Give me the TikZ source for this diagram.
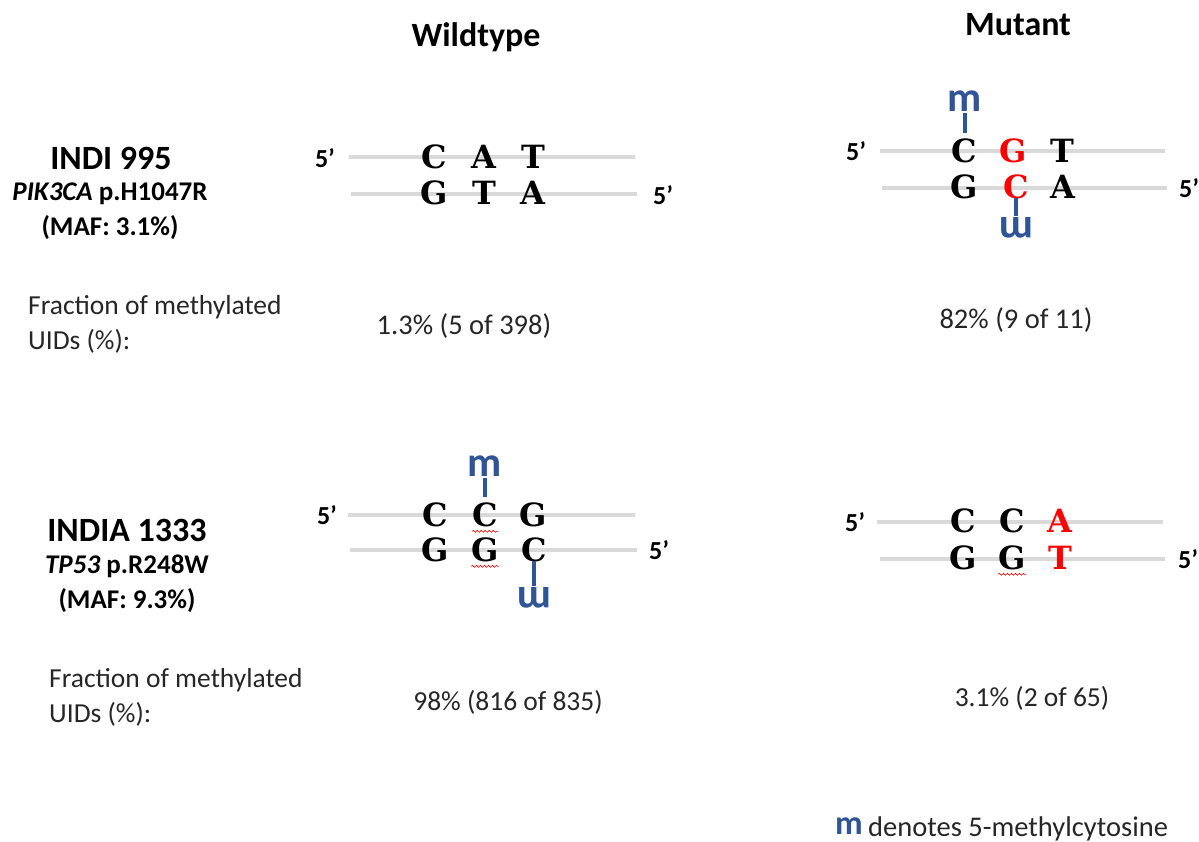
\documentclass[tikz,border=0pt]{standalone}
\usepackage{fontspec}
\setmainfont{Carlito}
\newfontfamily\basefont{DejaVu Serif}
\usetikzlibrary{decorations.pathmorphing}
\definecolor{mblue}{HTML}{2F5597}
\definecolor{strandgray}{HTML}{D9D9D9}
\definecolor{txt}{HTML}{262626}
\definecolor{mutred}{HTML}{FF0000}
\tikzset{
  title/.style={font=\fontsize{34}{38}\selectfont\bfseries, inner sep=0pt},
  sample/.style={font=\fontsize{34}{38}\selectfont\bfseries, inner sep=0pt},
  sub/.style={font=\fontsize{27}{30}\selectfont\bfseries, inner sep=0pt},
  body/.style={font=\fontsize{27.5}{30}\selectfont, text=txt, inner sep=0pt},
  base/.style={font=\basefont\bfseries\fontsize{32}{36}\selectfont, inner sep=0pt},
  mut/.style={base, text=mutred},
  strand/.style={line width=4pt, draw=strandgray},
  five/.style={font=\fontsize{26}{28}\selectfont\bfseries, inner sep=0pt},
  meth/.style={font=\fontsize{42}{44}\selectfont\bfseries, text=mblue, inner sep=0pt},
  tick/.style={line width=4pt, draw=mblue},
  wavy/.style={draw=mutred, line width=0.6pt, decorate, decoration={snake, amplitude=1pt, segment length=4pt}}
}
\begin{document}
\begin{tikzpicture}[x=1pt, y=-1pt]
\useasboundingbox (0,0) rectangle (1199,842);
% headings
\node[title] (wt) at (476,37) {Wildtype};
\node[title] (mu) at (1018,25) {Mutant};
% sample 1
\node[sample] (s1name) at (111,158) {INDI 995};
\node[sub] (s1gene) at (110,194) {\textit{PIK3CA} p.H1047R};
\node[sub] (s1maf) at (110,228) {(MAF: 3.1\%)};
\node[body, anchor=west] (s1f1) at (28,307) {Fraction of methylated};
\node[body, anchor=west] (s1f2) at (28,341) {UIDs (\%):};
\node[body, font=\fontsize{28.5}{30}\selectfont] (s1wt) at (464,326) {1.3\% (5 of 398)};
\node[body, font=\fontsize{28.5}{30}\selectfont] (s1mu) at (1016,320) {82\% (9 of 11)};
% sample 2
\node[sample] (s2name) at (127,530) {INDIA 1333};
\node[sub] (s2gene) at (127,566) {\textit{TP53} p.R248W};
\node[sub] (s2maf) at (127,601) {(MAF: 9.3\%)};
\node[body, anchor=west] (s2f1) at (49,680) {Fraction of methylated};
\node[body, anchor=west] (s2f2) at (49,714) {UIDs (\%):};
\node[body] (s2wt) at (508,702) {98\% (816 of 835)};
\node[body] (s2mu) at (1032,698) {3.1\% (2 of 65)};

% ---- Panel A: wildtype, sample 1
\coordinate (a1) at (349,157); \coordinate (a2) at (635,157);
\coordinate (a3) at (351,194); \coordinate (a4) at (637,194);
\draw[strand] (a1) -- (a2);
\draw[strand] (a3) -- (a4);
\node[five] (a5l) at (325,158) {5’};
\node[five] (a5r) at (663,195) {5’};
\node[base] (at1) at (434,157) {C};
\node[base] (at2) at (484,157) {A};
\node[base] (at3) at (533,157) {T};
\node[base] (ab1) at (434,193) {G};
\node[base] (ab2) at (484,193) {T};
\node[base] (ab3) at (533,193) {A};

% ---- Panel B: mutant, sample 1
\coordinate (b1) at (880,151); \coordinate (b2) at (1165,151);
\coordinate (b3) at (882,188); \coordinate (b4) at (1167,188);
\draw[strand] (b1) -- (b2);
\draw[strand] (b3) -- (b4);
\node[five] (b5l) at (856,151) {5’};
\node[five] (b5r) at (1189,188) {5’};
\node[base] (bt1) at (964,151) {C};
\node[mut]  (bt2) at (1013,151) {G};
\node[base] (bt3) at (1062,151) {T};
\node[base] (bb1) at (964,187) {G};
\node[mut]  (bb2) at (1016,187) {C};
\node[base] (bb3) at (1063,187) {A};
\node[meth] (bm) at (965,101) {m};
\node[meth, rotate=180] (bw) at (1016,228) {m};
\draw[tick, shorten <=1pt, shorten >=6pt] (bm.south) -- (bm.south |- bt1.north);
\draw[tick, shorten <=-1pt, shorten >=1pt] (bw.south |- bb2.south) -- (bw.south);

% ---- Panel C: wildtype, sample 2
\coordinate (c1) at (348,515); \coordinate (c2) at (635,515);
\coordinate (c3) at (350,550); \coordinate (c4) at (637,550);
\draw[strand] (c1) -- (c2);
\draw[strand] (c3) -- (c4);
\node[five] (c5l) at (327,515) {5’};
\node[five] (c5r) at (659,550) {5’};
\node[base] (ct1) at (435,515) {C};
\node[base] (ct2) at (485,515) {C};
\node[base] (ct3) at (533,515) {G};
\node[base] (cb1) at (435,550) {G};
\node[base] (cb2) at (485,550) {G};
\node[base] (cb3) at (534,550) {C};
\node[meth] (cm) at (485,466) {m};
\node[meth, rotate=180] (cw) at (534,598) {m};
\draw[tick, shorten <=1pt, shorten >=6pt] (cm.south) -- (cm.south |- ct2.north);
\draw[tick, shorten <=-1pt, shorten >=1pt] (cw.south |- cb3.south) -- (cw.south);
\draw[wavy] ([yshift=-4pt]ct2.south west) -- ([yshift=-4pt]ct2.south east);
\draw[wavy] ([yshift=-4pt]cb2.south west) -- ([yshift=-4pt]cb2.south east);

% ---- Panel D: mutant, sample 2
\coordinate (d1) at (877,522); \coordinate (d2) at (1163,522);
\coordinate (d3) at (880,559); \coordinate (d4) at (1165,559);
\draw[strand] (d1) -- (d2);
\draw[strand] (d3) -- (d4);
\node[five] (d5l) at (855,522) {5’};
\node[five] (d5r) at (1188,559) {5’};
\node[base] (dt1) at (963,521) {C};
\node[base] (dt2) at (1012,521) {C};
\node[mut]  (dt3) at (1060,521) {A};
\node[base] (db1) at (963,558) {G};
\node[base] (db2) at (1012,558) {G};
\node[mut]  (db3) at (1060,558) {T};
\draw[wavy] ([yshift=-4pt]db2.south west) -- ([yshift=-4pt]db2.south east);

% legend
\node[meth, font=\fontsize{34}{36}\selectfont\bfseries] (lm) at (849,826) {m};
\node[body, anchor=west, font=\fontsize{28.5}{30}\selectfont] (lt) at (868,829) {denotes 5-methylcytosine};
\end{tikzpicture}
\end{document}
